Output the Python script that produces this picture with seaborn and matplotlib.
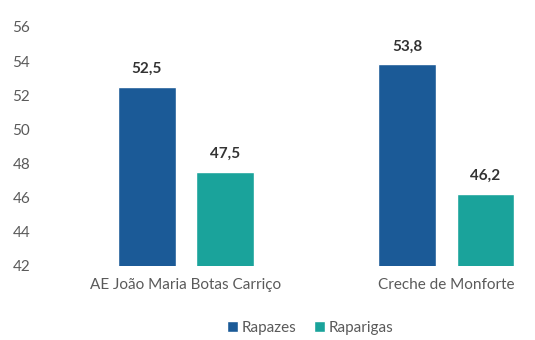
import matplotlib
matplotlib.use("Agg")
import matplotlib.pyplot as plt
import seaborn as sns
import pandas as pd
from matplotlib.patches import Patch

schools = ["AE João Maria Botas Carriço", "Creche de Monforte"]
series = ["Rapazes", "Raparigas"]
rapazes = [52.5, 53.8]
raparigas = [47.5, 46.2]
yticks = [42, 44, 46, 48, 50, 52, 54, 56]

colors = {"Rapazes": "#1b5a97", "Raparigas": "#1aa39b"}

df = pd.DataFrame({
    "escola": schools * 2,
    "sexo": [series[0]] * len(schools) + [series[1]] * len(schools),
    "valor": rapazes + raparigas,
})

sns.set_style("white")
plt.rcParams["font.family"] = ["Lato", "DejaVu Sans"]

fig = plt.figure(figsize=(5.35, 3.4), dpi=100)
ax = fig.add_axes([0.085, 0.218, 0.905, 0.703])

sns.barplot(data=df, x="escola", y="valor", hue="sexo", order=schools,
            hue_order=series, palette=colors, width=0.6, gap=0.26,
            saturation=1, legend=False, ax=ax)

ax.set_ylim(42, 56)
ax.set_yticks(yticks)
ax.set_xlim(-0.54, 1.32)
ax.set_xlabel("")
ax.set_ylabel("")
sns.despine(ax=ax, left=True, bottom=True)
ax.tick_params(axis="both", length=0, labelsize=11, colors="#5a5a5a")
ax.tick_params(axis="x", pad=9)
ax.tick_params(axis="y", pad=11)

for container in ax.containers:
    labels = [f"{v:.1f}".replace(".", ",") for v in container.datavalues]
    ax.bar_label(container, labels=labels, padding=8, fontsize=11,
                 fontweight="bold", color="#333333")

handles = [Patch(facecolor=colors[s], label=s) for s in series]
fig.legend(handles=handles, loc="lower center", bbox_to_anchor=(0.58, -0.025),
           ncol=2, frameon=False, fontsize=11, handlelength=0.7,
           handleheight=0.7, handletextpad=0.25, columnspacing=1.2,
           labelcolor="#5a5a5a")

fig.savefig("out.png", dpi=100)
